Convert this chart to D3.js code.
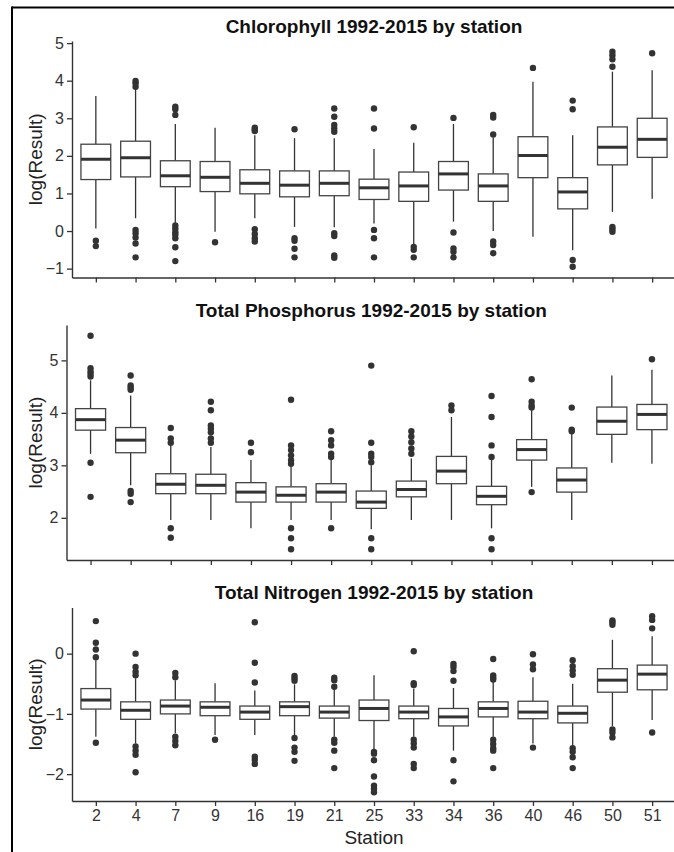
<!DOCTYPE html>
<html>
<head>
<meta charset="utf-8">
<script src="https://cdn.jsdelivr.net/npm/d3@7"></script>
<style>
  body { margin: 0; background: #fff; }
  svg { display: block; font-family: "Liberation Sans", Arial, sans-serif; }
</style>
</head>
<body>
<svg id="canvas"></svg>
<script>
// Stations (x categories)
const stations = ['2', '4', '7', '9', '16', '19', '21', '25', '33', '34', '36', '40', '46', '50', '51']

// Chlorophyll boxplot stats
const chlLow  = [0.07, 0.34, 0.22, -0.02, 0.34, 0.11, 0.10, 0.20, -0.37, 0.25, 0.00, -0.15, -0.51, 0.51, 0.86]
const chlQ1   = [1.37, 1.44, 1.18, 1.05, 0.99, 0.91, 0.94, 0.84, 0.79, 1.09, 0.79, 1.42, 0.59, 1.76, 1.96]
const chlMed  = [1.91, 1.95, 1.47, 1.43, 1.27, 1.22, 1.27, 1.15, 1.20, 1.52, 1.20, 2.01, 1.04, 2.23, 2.44]
const chlQ3   = [2.31, 2.39, 1.87, 1.85, 1.63, 1.60, 1.60, 1.38, 1.57, 1.85, 1.52, 2.51, 1.42, 2.77, 3.00]
const chlHigh = [3.59, 3.77, 2.85, 2.75, 2.55, 2.47, 2.47, 2.18, 2.35, 2.85, 2.49, 3.97, 2.55, 4.24, 4.28]
const chlOut  = [
  [-0.26, -0.40],
  [3.99, 3.93, 3.84, 0.03, -0.06, -0.17, -0.33, -0.70],
  [3.31, 3.24, 3.09, 0.15, 0.06, -0.03, -0.10, -0.19, -0.43, -0.80],
  [-0.30],
  [2.75, 2.70, 2.66, 0.05, -0.08, -0.19, -0.28],
  [2.71, -0.19, -0.26, -0.47, -0.70],
  [3.26, 3.04, 2.82, 2.73, 2.64, -0.06, -0.13, -0.65, -0.71],
  [3.26, 2.73, 0.03, -0.19, -0.70],
  [2.76, -0.42, -0.50, -0.70],
  [3.01, -0.04, -0.46, -0.55, -0.70],
  [3.09, 3.02, 2.57, -0.28, -0.37, -0.59],
  [4.34],
  [3.47, 3.24, -0.77, -0.95],
  [4.77, 4.68, 4.57, 4.37, 0.11, 0.05, -0.02],
  [4.73]
]

// Total phosphorus boxplot stats
const tpLow  = [3.22, 2.62, 1.96, 1.96, 1.80, 1.96, 1.96, 1.78, 1.96, 1.96, 1.80, 2.59, 1.96, 3.05, 3.03]
const tpQ1   = [3.67, 3.24, 2.46, 2.46, 2.30, 2.30, 2.30, 2.18, 2.40, 2.65, 2.25, 3.10, 2.49, 3.59, 3.68]
const tpMed  = [3.87, 3.48, 2.64, 2.62, 2.49, 2.43, 2.49, 2.30, 2.54, 2.89, 2.41, 3.30, 2.72, 3.84, 3.97]
const tpQ3   = [4.08, 3.72, 2.84, 2.83, 2.67, 2.59, 2.65, 2.51, 2.70, 3.17, 2.60, 3.49, 2.95, 4.11, 4.16]
const tpHigh = [4.62, 4.33, 3.38, 3.35, 3.10, 2.97, 3.10, 3.00, 3.13, 3.92, 3.13, 4.05, 3.60, 4.71, 4.82]
const tpOut  = [
  [5.47, 4.85, 4.79, 4.74, 4.69, 3.05, 2.40],
  [4.71, 4.52, 4.48, 4.44, 2.51, 2.46, 2.30],
  [3.71, 3.51, 3.43, 1.80, 1.62],
  [4.21, 4.05, 3.76, 3.70, 3.63, 3.51, 3.43],
  [3.43, 3.25],
  [4.25, 3.38, 3.29, 3.19, 3.10, 3.03, 1.80, 1.61, 1.40],
  [3.65, 3.48, 3.38, 3.22, 3.16, 1.80],
  [4.90, 3.43, 3.22, 3.16, 3.06, 1.61, 1.40],
  [3.65, 3.55, 3.44, 3.32, 3.22],
  [4.14, 4.05],
  [4.32, 3.92, 3.38, 3.16, 1.61, 1.40],
  [4.64, 4.21, 4.14, 4.10, 2.49],
  [4.10, 3.68, 3.65],
  [],
  [5.02]
]

// Total nitrogen boxplot stats
const tnLow  = [-1.38, -1.49, -1.32, -1.35, -1.35, -1.35, -1.38, -1.60, -1.38, -1.61, -1.38, -1.49, -1.52, -1.20, -1.10]
const tnQ1   = [-0.92, -1.09, -1.00, -1.03, -1.09, -1.03, -1.07, -1.11, -1.08, -1.20, -1.05, -1.08, -1.15, -0.64, -0.60]
const tnMed  = [-0.77, -0.94, -0.87, -0.89, -0.97, -0.88, -0.97, -0.91, -0.97, -1.05, -0.91, -0.97, -0.99, -0.44, -0.34]
const tnQ3   = [-0.58, -0.80, -0.77, -0.80, -0.87, -0.80, -0.87, -0.77, -0.87, -0.91, -0.80, -0.79, -0.87, -0.25, -0.19]
const tnHigh = [-0.11, -0.41, -0.44, -0.49, -0.61, -0.51, -0.58, -0.36, -0.58, -0.57, -0.44, -0.39, -0.50, 0.23, 0.29]
const tnOut  = [
  [0.54, 0.18, 0.07, -0.06, -1.48],
  [0.00, -0.22, -0.30, -0.36, -1.54, -1.61, -1.68, -1.97],
  [-0.32, -0.39, -1.38, -1.45, -1.52],
  [-1.43],
  [0.52, -0.15, -0.48, -1.71, -1.76, -1.83],
  [-0.37, -0.41, -0.45, -1.40, -1.56, -1.63, -1.78],
  [-0.40, -0.44, -0.55, -1.43, -1.48, -1.61, -1.90],
  [-1.63, -1.66, -1.77, -2.04, -2.19, -2.24, -2.30],
  [0.04, -0.49, -0.52, -1.43, -1.49, -1.56, -1.83, -1.90],
  [-0.17, -0.22, -0.29, -0.45, -1.77, -2.12],
  [-0.09, -0.36, -0.40, -0.43, -1.43, -1.50, -1.57, -1.61, -1.90],
  [-0.01, -0.18, -0.26, -1.56],
  [-0.11, -0.21, -0.28, -0.35, -1.57, -1.63, -1.72, -1.90],
  [0.55, 0.52, 0.48, -1.26, -1.31, -1.39],
  [0.62, 0.56, 0.42, -1.31]
]

// Canvas setup
let width = 674
let height = 852
let svg = d3.select('#canvas')
svg.attr('width', width)
svg.attr('height', height)
svg.append('rect').attr('width', width).attr('height', height).attr('fill', '#fff')

// frame (only top and left edges are visible in the crop)
svg.append('line').attr('x1', 12).attr('x2', width).attr('y1', 7.5).attr('y2', 7.5)
    .attr('stroke', '#000').attr('stroke-width', 2)
svg.append('line').attr('x1', 12).attr('x2', 12).attr('y1', 6.5).attr('y2', height)
    .attr('stroke', '#000').attr('stroke-width', 2)

const ink = '#333'

function drawPanel(opts) {
    let {title, low, q1, med, q3, high, out, left, top, bottom, ticks, titleY, showLabels} = opts
    let right = 676

    let rows = stations.map((s, i) => ({
        station: s, low: low[i], q1: q1[i], med: med[i], q3: q3[i], high: high[i], out: out[i]
    }))

    // y domain: data range with 5% expansion
    let all = []
    rows.forEach(d => { all.push(d.low, d.high); d.out.forEach(o => all.push(o)) })
    let [mn, mx] = d3.extent(all)
    let pad = (mx - mn) * 0.05

    let yScale = d3.scaleLinear().domain([mn - pad, mx + pad]).range([bottom, top])
    let xScale = d3.scalePoint().domain(stations).range([left, right]).padding(0.6)
    let bw = xScale.step() * 0.75

    let g = svg.append('g')

    // title
    g.append('text')
        .attr('x', (left + right) / 2)
        .attr('y', titleY)
        .attr('text-anchor', 'middle')
        .attr('font-weight', 'bold')
        .attr('font-size', '19px')
        .attr('fill', '#111')
        .text(title)

    // y axis label
    g.append('text')
        .attr('transform', 'translate(35,' + ((top + bottom) / 2) + ') rotate(-90)')
        .attr('text-anchor', 'middle')
        .attr('dominant-baseline', 'central')
        .attr('font-size', '19px')
        .attr('fill', '#222')
        .text('log(Result)')

    // axes
    let yAxis = d3.axisLeft(yScale).tickValues(ticks).tickSize(5).tickSizeOuter(0).tickPadding(3)
        .tickFormat(d3.format('d'))
    let ya = g.append('g').attr('transform', 'translate(' + left + ',0)').call(yAxis)

    let xAxis = d3.axisBottom(xScale).tickSize(5).tickSizeOuter(0).tickPadding(4)
    if (!showLabels) xAxis.tickFormat('')
    let xa = g.append('g').attr('transform', 'translate(0,' + bottom + ')').call(xAxis)

    ;[ya, xa].forEach(a => {
        a.select('.domain').attr('stroke', ink).attr('stroke-width', 1.4)
        a.selectAll('.tick line').attr('stroke', ink).attr('stroke-width', 1.3)
        a.selectAll('.tick text').attr('fill', '#333').attr('font-size', '16px')
            .attr('font-family', '"Liberation Sans", Arial, sans-serif')
    })

    // whiskers
    let boxes = g.selectAll('.box').data(rows).enter().append('g').attr('class', 'box')
    boxes.append('line')
        .attr('x1', d => xScale(d.station)).attr('x2', d => xScale(d.station))
        .attr('y1', d => yScale(d.high)).attr('y2', d => yScale(d.q3))
        .attr('stroke', ink).attr('stroke-width', 1.3)
    boxes.append('line')
        .attr('x1', d => xScale(d.station)).attr('x2', d => xScale(d.station))
        .attr('y1', d => yScale(d.q1)).attr('y2', d => yScale(d.low))
        .attr('stroke', ink).attr('stroke-width', 1.3)

    // boxes
    boxes.append('rect')
        .attr('x', d => xScale(d.station) - bw / 2)
        .attr('width', bw)
        .attr('y', d => yScale(d.q3))
        .attr('height', d => yScale(d.q1) - yScale(d.q3))
        .attr('fill', '#fff')
        .attr('stroke', '#444')
        .attr('stroke-width', 1.3)

    // medians
    boxes.append('line')
        .attr('x1', d => xScale(d.station) - bw / 2).attr('x2', d => xScale(d.station) + bw / 2)
        .attr('y1', d => yScale(d.med)).attr('y2', d => yScale(d.med))
        .attr('stroke', ink).attr('stroke-width', 3)

    // outliers
    boxes.selectAll('circle')
        .data(d => d.out.map(v => ({station: d.station, v: v})))
        .enter()
        .append('circle')
        .attr('cx', d => xScale(d.station))
        .attr('cy', d => yScale(d.v))
        .attr('r', 3.2)
        .attr('fill', ink)

    if (showLabels) {
        g.append('text')
            .attr('x', (left + right) / 2)
            .attr('y', 844)
            .attr('text-anchor', 'middle')
            .attr('font-size', '19px')
            .attr('fill', '#222')
            .text('Station')
    }
}

drawPanel({title: 'Chlorophyll 1992-2015 by station', low: chlLow, q1: chlQ1, med: chlMed, q3: chlQ3,
    high: chlHigh, out: chlOut, left: 72, top: 41, bottom: 277.5, ticks: [-1, 0, 1, 2, 3, 4, 5],
    titleY: 33, showLabels: false})

drawPanel({title: 'Total Phosphorus 1992-2015 by station', low: tpLow, q1: tpQ1, med: tpMed, q3: tpQ3,
    high: tpHigh, out: tpOut, left: 66.5, top: 325, bottom: 560, ticks: [2, 3, 4, 5],
    titleY: 316.5, showLabels: false})

drawPanel({title: 'Total Nitrogen 1992-2015 by station', low: tnLow, q1: tnQ1, med: tnMed, q3: tnQ3,
    high: tnHigh, out: tnOut, left: 72, top: 607.5, bottom: 801, ticks: [-2, -1, 0],
    titleY: 599, showLabels: true})
</script>
</body>
</html>
